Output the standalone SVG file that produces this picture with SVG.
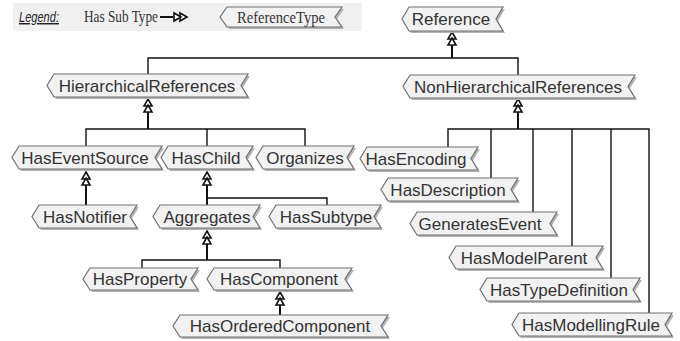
<svg xmlns="http://www.w3.org/2000/svg" width="680" height="341" viewBox="0 0 680 341">
  <style>
    .shadow { fill: #b4b4b4; }
    .box { fill: #f2f2f2; stroke: #707070; stroke-width: 1.2; }
    .lbl { font-family: "Liberation Sans", Arial, sans-serif; font-size: 17px; fill: #333; text-anchor: middle; }
    .serif { font-family: "Liberation Serif", "Times New Roman", serif; font-size: 17px; fill: #333; }
    .wire { stroke: #111; stroke-width: 1.4; fill: none; }
    .stem { stroke: #111; stroke-width: 2; fill: none; }
    .head { fill: #fff; stroke: #111; stroke-width: 1.6; stroke-linejoin: miter; }
  </style>
  <defs>
    <!-- double open triangle, tip at origin, pointing up -->
    <g id="subtype-head">
      <path class="head" d="M0,0 L4,7 L-4,7 Z"/>
      <path class="head" d="M0,6 L4,13 L-4,13 Z"/>
    </g>
  </defs>

  <!-- legend -->
  <g id="legend">
    <rect x="13" y="3" width="349" height="28" fill="#f0f0f0"/>
    <text x="19" y="22" font-family="Liberation Sans, Arial, sans-serif" font-size="14.5" font-style="italic" fill="#222" text-decoration="underline" textLength="40" lengthAdjust="spacingAndGlyphs">Legend:</text>
    <text class="serif" x="84" y="22" textLength="74" lengthAdjust="spacingAndGlyphs">Has Sub Type</text>
    <line x1="160" y1="17" x2="173" y2="17" stroke="#111" stroke-width="2"/>
    <path class="head" d="M187,17 L180,13 L180,21 Z"/>
    <path class="head" d="M181,17 L174,13 L174,21 Z"/>
    <polygon class="shadow" points="229,9 344,9 337,19 344,29 229,29 222,19"/>
    <polygon class="box" points="227,7 342,7 335,17 342,27 227,27 220,17"/>
    <text class="serif" x="237" y="23" textLength="88" lengthAdjust="spacingAndGlyphs">ReferenceType</text>
  </g>

  <!-- connectors -->
  <g id="connectors">
    <!-- Reference -->
    <line class="stem" x1="452" y1="44" x2="452" y2="58"/>
    <use href="#subtype-head" x="452" y="32"/>
    <polyline class="wire" points="148,74 148,58 518,58 518,75"/>

    <!-- HierarchicalReferences -->
    <line class="stem" x1="148" y1="111" x2="148" y2="129"/>
    <use href="#subtype-head" x="148" y="99"/>
    <polyline class="wire" points="86,146 86,129 305,129 305,146"/>
    <line class="wire" x1="207" y1="129" x2="207" y2="146"/>

    <!-- NonHierarchicalReferences -->
    <line class="stem" x1="518" y1="111" x2="518" y2="129"/>
    <use href="#subtype-head" x="518" y="99"/>
    <polyline class="wire" points="448,147 448,129 649,129 649,313"/>
    <line class="wire" x1="491" y1="129" x2="491" y2="178"/>
    <line class="wire" x1="533" y1="129" x2="533" y2="212"/>
    <line class="wire" x1="572" y1="129" x2="572" y2="246"/>
    <line class="wire" x1="611" y1="129" x2="611" y2="278"/>

    <!-- HasEventSource -->
    <line class="stem" x1="86" y1="184" x2="86" y2="205"/>
    <use href="#subtype-head" x="86" y="172"/>

    <!-- HasChild -->
    <line class="stem" x1="207" y1="184" x2="207" y2="205"/>
    <use href="#subtype-head" x="207" y="172"/>
    <polyline class="wire" points="207,198 327,198 327,205"/>

    <!-- Aggregates -->
    <line class="stem" x1="207" y1="243" x2="207" y2="260"/>
    <use href="#subtype-head" x="207" y="231"/>
    <polyline class="wire" points="142,268 142,260 280,260 280,268"/>

    <!-- HasComponent -->
    <line class="stem" x1="280" y1="304" x2="280" y2="315"/>
    <use href="#subtype-head" x="280" y="292"/>
  </g>

  <!-- nodes -->
  <g id="Reference">
    <polygon class="shadow" points="411,9 505,9 498,21 505,33 411,33 404,21"/>
    <polygon class="box" points="409,7 503,7 496,19 503,31 409,31 402,19"/>
    <text class="lbl" x="451" y="25">Reference</text>
  </g>
  <g id="HierarchicalReferences">
    <polygon class="shadow" points="56,76 250,76 243,87.5 250,99 56,99 49,87.5"/>
    <polygon class="box" points="54,74 248,74 241,85.5 248,97 54,97 47,85.5"/>
    <text class="lbl" x="147" y="91.5">HierarchicalReferences</text>
  </g>
  <g id="NonHierarchicalReferences">
    <polygon class="shadow" points="412,77 637,77 630,88.5 637,100 412,100 405,88.5"/>
    <polygon class="box" points="410,75 635,75 628,86.5 635,98 410,98 403,86.5"/>
    <text class="lbl" x="518" y="92.5">NonHierarchicalReferences</text>
  </g>
  <g id="HasEventSource">
    <polygon class="shadow" points="21,148 164,148 157,159.5 164,171 21,171 14,159.5"/>
    <polygon class="box" points="19,146 162,146 155,157.5 162,169 19,169 12,157.5"/>
    <text class="lbl" x="85" y="163.5">HasEventSource</text>
  </g>
  <g id="HasChild">
    <polygon class="shadow" points="170,148 255,148 248,159.5 255,171 170,171 163,159.5"/>
    <polygon class="box" points="168,146 253,146 246,157.5 253,169 168,169 161,157.5"/>
    <text class="lbl" x="206" y="163.5">HasChild</text>
  </g>
  <g id="Organizes">
    <polygon class="shadow" points="265,148 356,148 349,159.5 356,171 265,171 258,159.5"/>
    <polygon class="box" points="263,146 354,146 347,157.5 354,169 263,169 256,157.5"/>
    <text class="lbl" x="305" y="163.5">Organizes</text>
  </g>
  <g id="HasEncoding">
    <polygon class="shadow" points="369,149 480,149 473,160.5 480,172 369,172 362,160.5"/>
    <polygon class="box" points="367,147 478,147 471,158.5 478,170 367,170 360,158.5"/>
    <text class="lbl" x="416" y="164.5">HasEncoding</text>
  </g>
  <g id="HasDescription">
    <polygon class="shadow" points="390,180 520,180 513,191.5 520,203 390,203 383,191.5"/>
    <polygon class="box" points="388,178 518,178 511,189.5 518,201 388,201 381,189.5"/>
    <text class="lbl" x="448" y="195.5">HasDescription</text>
  </g>
  <g id="GeneratesEvent">
    <polygon class="shadow" points="419,214 559,214 552,225.5 559,237 419,237 412,225.5"/>
    <polygon class="box" points="417,212 557,212 550,223.5 557,235 417,235 410,223.5"/>
    <text class="lbl" x="480" y="229.5">GeneratesEvent</text>
  </g>
  <g id="HasModelParent">
    <polygon class="shadow" points="458,248 605,248 598,259.5 605,271 458,271 451,259.5"/>
    <polygon class="box" points="456,246 603,246 596,257.5 603,269 456,269 449,257.5"/>
    <text class="lbl" x="524" y="263.5">HasModelParent</text>
  </g>
  <g id="HasTypeDefinition">
    <polygon class="shadow" points="489,280 642,280 635,291.5 642,303 489,303 482,291.5"/>
    <polygon class="box" points="487,278 640,278 633,289.5 640,301 487,301 480,289.5"/>
    <text class="lbl" x="559" y="295.5">HasTypeDefinition</text>
  </g>
  <g id="HasModellingRule">
    <polygon class="shadow" points="521,315 674,315 667,326.5 674,338 521,338 514,326.5"/>
    <polygon class="box" points="519,313 672,313 665,324.5 672,336 519,336 512,324.5"/>
    <text class="lbl" x="591" y="330.5">HasModellingRule</text>
  </g>
  <g id="HasNotifier">
    <polygon class="shadow" points="41,207 139,207 132,218.5 139,230 41,230 34,218.5"/>
    <polygon class="box" points="39,205 137,205 130,216.5 137,228 39,228 32,216.5"/>
    <text class="lbl" x="85" y="222.5">HasNotifier</text>
  </g>
  <g id="Aggregates">
    <polygon class="shadow" points="162,207 262,207 255,218.5 262,230 162,230 155,218.5"/>
    <polygon class="box" points="160,205 260,205 253,216.5 260,228 160,228 153,216.5"/>
    <text class="lbl" x="207" y="222.5">Aggregates</text>
  </g>
  <g id="HasSubtype">
    <polygon class="shadow" points="278,207 383,207 376,218.5 383,230 278,230 271,218.5"/>
    <polygon class="box" points="276,205 381,205 374,216.5 381,228 276,228 269,216.5"/>
    <text class="lbl" x="326" y="222.5">HasSubtype</text>
  </g>
  <g id="HasProperty">
    <polygon class="shadow" points="92,270 200,270 193,281 200,292 92,292 85,281"/>
    <polygon class="box" points="90,268 198,268 191,279 198,290 90,290 83,279"/>
    <text class="lbl" x="140" y="285">HasProperty</text>
  </g>
  <g id="HasComponent">
    <polygon class="shadow" points="216,270 354,270 347,281 354,292 216,292 209,281"/>
    <polygon class="box" points="214,268 352,268 345,279 352,290 214,290 207,279"/>
    <text class="lbl" x="279" y="285">HasComponent</text>
  </g>
  <g id="HasOrderedComponent">
    <polygon class="shadow" points="182,317 390,317 383,328 390,339 182,339 175,328"/>
    <polygon class="box" points="180,315 388,315 381,326 388,337 180,337 173,326"/>
    <text class="lbl" x="280" y="332">HasOrderedComponent</text>
  </g>
</svg>
